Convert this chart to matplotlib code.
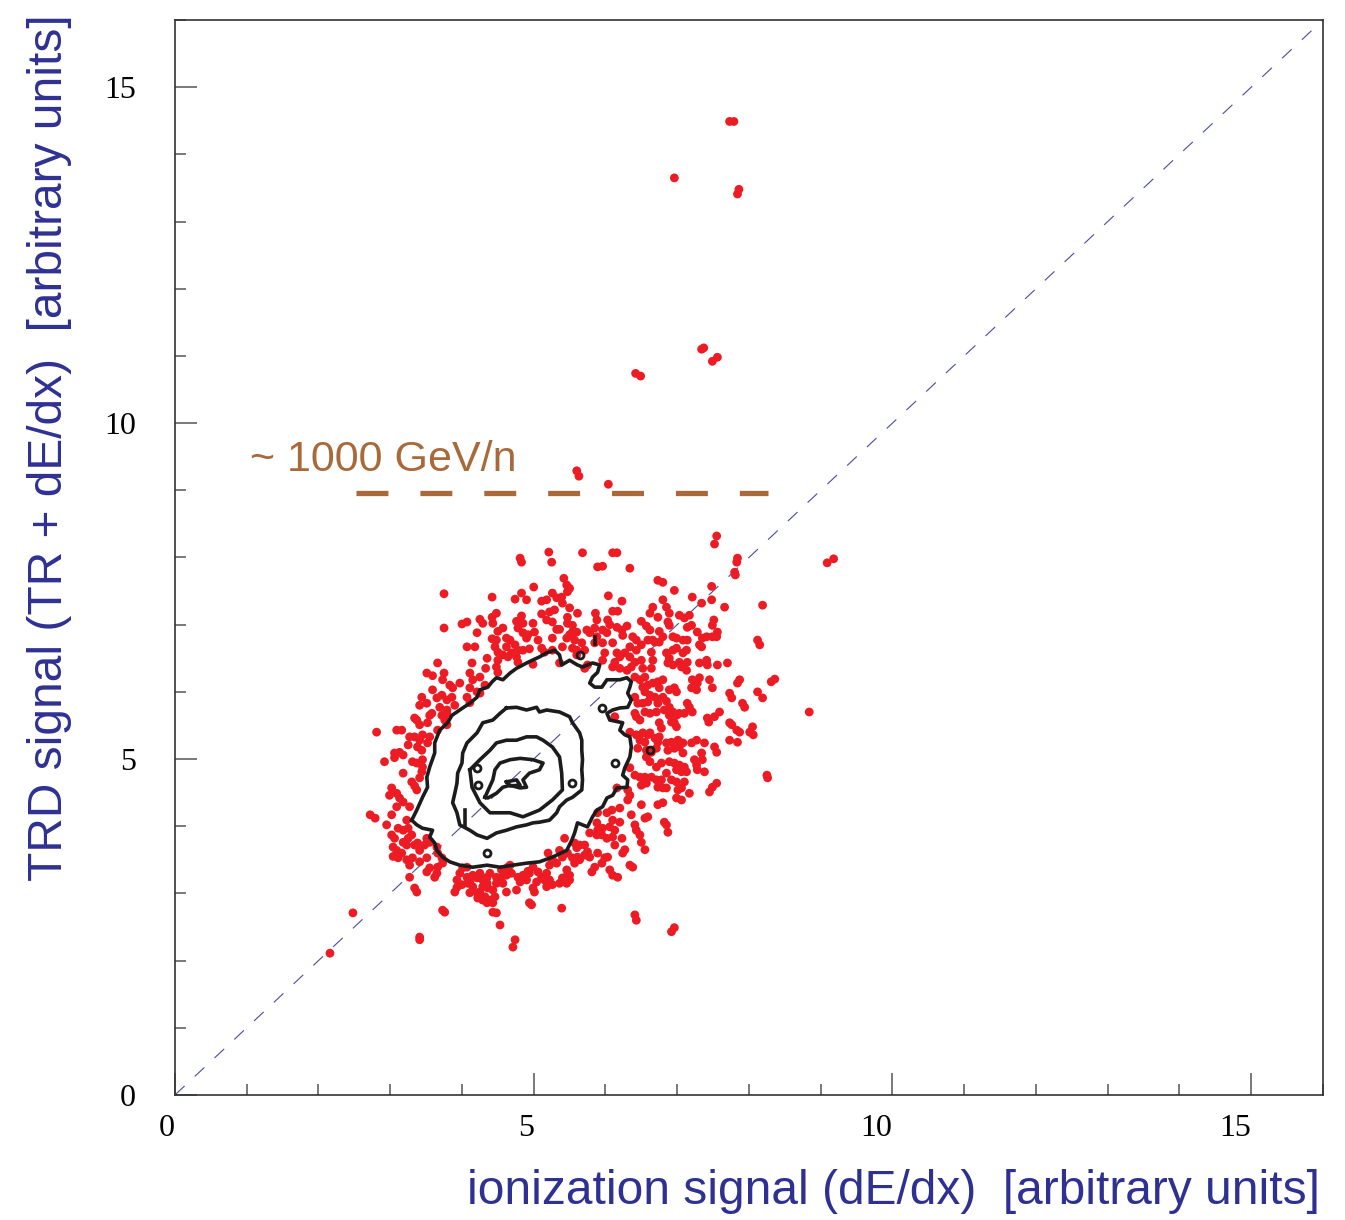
import matplotlib
matplotlib.use("Agg")
import matplotlib.pyplot as plt
from matplotlib.ticker import MultipleLocator

plt.rcParams["lines.scale_dashes"] = False

# ---- event sample: ionization signal vs TRD signal ----
ion_signal = [
    4.81, 4.83, 5.21, 5.25, 5.42, 5.46, 5.47, 5.00, 3.75, 4.42, 4.74, 4.90, 5.11, 5.18, 5.26, 5.32,
    5.39, 5.40, 5.50, 4.48, 4.42, 4.83, 4.76, 4.85, 5.11, 5.22, 5.29, 5.18, 5.26, 5.47, 5.54, 5.61,
    4.07, 4.00, 4.25, 4.29, 3.75, 4.57, 4.50, 4.21, 4.78, 4.85, 4.90, 4.99, 5.01, 5.32, 5.36, 5.50,
    5.46, 5.57, 4.42, 4.48, 4.62, 4.67, 4.07, 4.18, 4.46, 4.50, 4.57, 4.69, 4.76, 4.85, 4.94, 5.06,
    5.11, 5.26, 5.15, 5.40, 5.54, 5.60, 4.35, 4.50, 4.14, 4.33, 4.48, 4.99, 3.66, 5.36, 3.75, 3.59,
    3.51, 4.11, 4.25, 4.15, 3.73, 3.83, 3.97, 3.87, 4.11, 4.21, 4.32, 3.59, 3.65, 3.72, 3.79, 3.86,
    3.44, 3.41, 3.51, 4.07, 4.11, 4.25, 3.69, 3.79, 3.90, 3.58, 3.34, 3.72, 3.79,
    7.52, 5.68, 6.10, 6.16, 5.89, 5.96, 6.34, 7.84, 7.83, 7.80, 7.81, 6.73, 6.80, 6.96, 7.48, 6.04,
    6.23, 7.21, 7.34, 7.48, 7.66, 8.19, 5.50, 6.80, 6.85, 6.66, 6.62, 6.73, 6.89, 6.87, 7.03, 7.10,
    6.10, 6.17, 5.86, 5.88, 5.85, 5.96, 6.03, 6.50, 6.57, 6.62, 6.75, 6.80, 6.89, 6.94, 6.99, 7.14,
    7.20, 7.51, 7.49, 7.56, 6.16, 6.23, 6.30, 5.74, 5.78, 5.60, 7.28, 6.38, 6.43, 6.34, 6.43, 6.50,
    6.59, 6.66, 7.08, 7.14, 6.99, 6.94, 7.35, 7.41, 7.31, 7.34, 7.49, 7.55, 6.75, 8.12, 8.15, 5.96,
    6.10, 5.99, 6.16, 6.20, 6.27, 5.60, 5.71, 5.67, 6.64, 6.85, 6.89, 7.08, 6.34, 6.41, 6.50, 6.66,
    6.13, 6.10, 6.20, 6.30, 6.87, 6.94, 7.03, 7.14, 7.41, 7.42, 7.56, 7.70, 6.52, 6.64, 7.06, 7.13,
    5.75, 5.71, 6.41, 6.48, 6.55, 6.59, 6.66, 6.73, 6.80, 6.96, 6.99, 7.21, 7.31, 7.28, 7.20, 7.27,
    7.45, 7.49, 7.87, 7.84, 8.36, 8.31, 6.55, 6.62, 6.69, 6.75, 6.80, 6.41, 6.45, 6.52, 7.73, 7.76,
    8.12, 8.19, 7.91, 7.14, 7.17, 6.55, 6.62, 6.71, 6.82, 6.89, 6.94, 7.03, 7.10, 7.42, 6.43,
    8.84, 6.13, 6.41, 6.99, 7.44, 7.73, 7.76, 7.83, 7.87, 8.05, 8.01, 8.06, 6.75, 6.78, 6.92, 6.96,
    6.99, 6.34, 6.43, 6.52, 6.59, 6.62, 6.69, 6.75, 6.73, 6.85, 6.92, 7.01, 7.08, 7.27, 7.38, 7.20,
    7.73, 7.84, 6.48, 6.55, 6.45, 6.57, 6.64, 6.71, 6.87, 6.96, 7.03, 7.08, 7.52, 7.55, 6.57, 6.62,
    6.89, 6.96, 6.78, 6.71, 7.24, 7.34, 7.35, 7.27, 7.28, 7.03, 7.10, 6.99, 7.06, 7.13, 7.38, 6.34,
    6.41, 6.48, 6.55, 6.64, 6.71, 6.78, 6.85, 6.92, 6.99, 7.10, 8.25, 8.26, 7.55, 7.49, 7.45, 6.50,
    6.57, 6.73, 6.80, 6.85, 7.01, 7.06, 7.17, 6.16, 6.31, 6.34, 6.31, 6.99, 7.06, 6.73, 6.80, 6.50,
    6.20, 6.09, 6.02, 5.89, 6.10, 6.20, 6.36, 6.55, 6.59, 6.82, 6.85, 6.87, 5.88, 5.89, 5.96, 6.06,
    6.13, 6.41, 6.43, 5.95, 6.02, 6.10, 6.23, 6.48, 6.50, 5.78, 5.88, 5.57, 5.64, 5.71, 6.13, 6.27,
    6.24, 6.55, 5.75, 5.71, 5.78, 5.89, 5.61, 5.54, 5.57, 5.64, 5.99, 6.03, 5.95, 6.34, 6.38, 5.85,
    5.81, 6.06, 6.10, 6.17, 5.50, 5.50, 6.41, 6.43, 6.96, 6.92,
    3.37, 3.41, 3.52, 3.55, 3.76, 3.66, 3.79, 3.09, 3.16, 2.81, 3.27, 3.34, 3.41, 3.38, 3.44, 3.52,
    3.55, 3.45, 3.25, 3.06, 3.13, 3.18, 2.92, 3.31, 3.37, 3.45, 3.45, 3.44, 3.41, 3.18, 3.30, 3.37,
    3.02, 2.99, 3.09, 3.13, 3.18, 3.27, 2.72, 2.79, 3.02, 2.95, 3.11, 3.18, 3.25, 3.02, 3.06, 3.25,
    3.30, 3.18, 3.23, 3.04, 3.09, 3.16, 3.34, 3.38, 3.51, 3.55, 3.11, 3.23, 3.27, 3.41, 3.51, 3.66,
    3.72, 3.73, 3.66, 3.55, 3.65, 3.62, 3.51, 3.27, 3.37, 3.34, 2.48, 2.16, 3.41, 3.41, 3.73, 3.76,
    4.01, 4.07, 3.97, 4.07, 3.93, 4.00, 4.08, 4.15, 4.21, 4.25, 4.29, 4.35, 4.39, 4.35, 4.11, 4.21,
    4.29, 4.25, 4.32, 4.39, 4.29, 4.35, 4.43, 4.46, 4.43, 4.48, 4.55, 4.62, 4.48, 4.57, 4.64, 4.69,
    4.78, 4.85, 4.81, 4.90, 4.76, 4.62, 4.99, 5.06, 4.94, 5.04, 4.99, 5.11, 5.18, 5.22, 5.26, 5.36,
    5.20, 5.26, 5.32, 5.40, 5.36, 5.47, 5.22, 5.46, 5.47, 5.40, 4.43, 4.48, 4.53, 4.94, 4.74, 4.71,
    5.39, 5.43, 5.60, 4.55,
    7.73, 7.79, 6.96, 7.86, 7.84, 7.34, 7.37, 7.49, 7.56, 6.42, 6.49, 5.60, 5.63, 6.04, 7.55, 9.09,
    9.18,
    4.83, 5.47, 5.54, 5.88, 5.85, 4.92, 5.26, 4.43, 4.62, 4.74, 4.78, 4.64, 4.78, 4.50,
    7.17, 6.69, 6.06, 6.02, 6.24, 5.96, 6.36, 7.13, 7.31, 7.94, 7.52, 7.59, 6.52, 6.89, 6.59, 6.73,
    6.85, 6.89, 7.21, 6.48,
    3.06, 3.34, 3.09, 3.23, 3.04, 3.41, 3.48, 3.31, 3.65,
    3.90, 3.93, 4.11, 4.15, 4.36, 4.22, 4.67, 4.92, 5.01, 5.15, 5.18, 5.46, 4.97,
]
trd_signal = [
    7.99, 7.93, 8.08, 7.93, 7.69, 7.59, 7.49, 7.56, 7.46, 7.41, 7.38, 7.37, 7.35, 7.37, 7.47, 7.40,
    7.41, 7.32, 7.25, 7.17, 7.11, 7.13, 7.05, 7.02, 7.16, 7.19, 7.22, 7.07, 7.04, 7.11, 6.99, 7.17,
    7.04, 7.01, 7.08, 7.02, 6.95, 6.95, 6.90, 6.88, 6.95, 6.88, 6.80, 7.02, 6.89, 6.93, 6.93, 6.85,
    6.80, 6.77, 6.79, 6.77, 6.80, 6.77, 6.67, 6.67, 6.67, 6.59, 6.55, 6.58, 6.52, 6.62, 6.64, 6.77,
    6.65, 6.80, 6.59, 6.67, 6.65, 6.55, 6.50, 6.47, 6.43, 6.35, 6.37, 6.41, 6.43, 6.43, 6.28, 6.24,
    6.28, 6.28, 6.22, 6.18, 6.18, 6.10, 6.13, 6.06, 6.06, 6.00, 6.10, 6.03, 5.91, 5.95, 5.88, 5.92,
    5.92, 5.80, 5.83, 5.92, 5.84, 5.98, 5.77, 5.73, 5.80, 5.68, 5.61, 5.65, 5.68,
    8.20, 8.07, 8.07, 8.07, 7.86, 7.87, 7.84, 7.99, 7.93, 7.78, 7.74, 7.66, 7.63, 7.51, 7.57, 7.43,
    7.35, 7.41, 7.32, 7.37, 7.26, 7.29, 7.54, 7.37, 7.26, 7.26, 7.17, 7.11, 7.17, 7.04, 7.14, 7.10,
    7.20, 7.20, 7.17, 7.07, 6.95, 6.92, 7.07, 7.05, 6.98, 6.92, 6.90, 6.82, 6.99, 6.82, 6.80, 6.96,
    6.99, 7.07, 6.99, 6.89, 6.96, 6.92, 6.98, 6.92, 6.88, 6.89, 6.89, 6.82, 6.77, 6.67, 6.62, 6.70,
    6.77, 6.77, 6.77, 6.77, 6.65, 6.62, 6.80, 6.82, 6.70, 6.67, 6.82, 6.82, 6.74, 6.77, 6.70, 6.73,
    6.73, 6.58, 6.58, 6.52, 6.58, 6.62, 6.62, 6.73, 6.59, 6.58, 6.50, 6.58, 6.52, 6.44, 6.47, 6.47,
    6.44, 6.37, 6.35, 6.32, 6.43, 6.40, 6.44, 6.44, 6.47, 6.40, 6.40, 6.43, 6.35, 6.35, 6.37, 6.32,
    6.40, 6.35, 6.22, 6.18, 6.22, 6.10, 6.13, 6.15, 6.18, 6.06, 6.00, 6.18, 6.21, 6.13, 6.06, 6.03,
    6.18, 6.06, 6.18, 6.13, 6.19, 6.15, 6.00, 5.95, 5.92, 6.06, 5.92, 5.92, 5.83, 5.83, 5.98, 5.91,
    6.00, 5.91, 5.83, 5.83, 5.77, 5.70, 5.68, 5.70, 5.73, 5.65, 5.70, 5.68, 5.68, 5.61, 5.63,
    5.70, 5.63, 5.68, 5.65, 5.55, 5.54, 5.51, 5.43, 5.40, 5.48, 5.40, 5.36, 5.54, 5.46, 5.55, 5.54,
    5.48, 5.40, 5.36, 5.39, 5.36, 5.39, 5.31, 5.33, 5.25, 5.24, 5.25, 5.28, 5.24, 5.28, 5.24, 5.24,
    5.28, 5.25, 5.28, 5.25, 5.16, 5.13, 5.10, 5.16, 5.13, 5.16, 5.18, 5.09, 5.18, 5.10, 5.03, 4.96,
    4.96, 4.94, 4.94, 4.88, 4.99, 5.09, 4.99, 4.91, 4.84, 4.91, 4.88, 4.84, 4.81, 4.81, 4.81, 4.87,
    4.76, 4.73, 4.73, 4.73, 4.69, 4.69, 4.79, 4.69, 4.66, 4.66, 4.76, 4.72, 4.64, 4.58, 4.51, 4.61,
    4.64, 4.58, 4.57, 4.57, 4.54, 4.57, 4.49, 4.57, 4.54, 4.46, 4.39, 4.42, 4.39, 4.32, 4.35, 4.32,
    4.27, 4.24, 4.20, 4.20, 4.09, 4.06, 4.17, 4.12, 4.14, 4.06, 4.02, 3.91, 4.05, 3.94, 3.97, 3.99,
    3.94, 4.02, 3.94, 3.87, 3.82, 3.84, 3.82, 3.87, 3.76, 3.90, 3.87, 3.75, 3.72, 3.72, 3.72, 3.65,
    3.60, 3.65, 3.62, 3.57, 3.54, 3.60, 3.54, 3.53, 3.45, 3.50, 3.53, 3.54, 3.45, 3.42, 3.39, 3.39,
    3.32, 3.35, 3.27, 3.24, 3.27, 3.20, 2.68, 2.60, 2.49, 2.43,
    5.58, 5.51, 5.54, 5.65, 5.58, 5.43, 5.51, 5.43, 5.43, 5.40, 5.33, 5.33, 5.28, 5.18, 5.13, 5.24,
    5.33, 5.36, 5.21, 5.09, 5.10, 5.06, 4.96, 4.96, 4.94, 4.99, 4.88, 4.81, 4.72, 4.79, 4.66, 4.54,
    4.57, 4.46, 4.49, 4.42, 4.36, 4.29, 4.17, 4.12, 4.17, 4.02, 3.97, 3.94, 3.97, 3.87, 3.82, 3.82,
    3.87, 3.76, 3.72, 3.69, 3.64, 3.60, 3.72, 3.75, 3.82, 3.76, 3.53, 3.50, 3.42, 3.47, 3.53, 3.60,
    3.53, 3.45, 3.39, 3.38, 3.30, 3.24, 3.32, 3.24, 3.02, 3.08, 2.71, 2.11, 2.35, 2.31, 2.75, 2.72,
    3.38, 3.39, 3.30, 3.24, 3.20, 3.13, 3.15, 3.27, 3.23, 3.30, 3.20, 3.24, 3.30, 3.15, 3.01, 3.01,
    3.10, 3.02, 2.95, 2.90, 2.90, 2.86, 2.86, 2.95, 3.05, 3.24, 3.24, 3.27, 3.15, 3.15, 3.39, 3.30,
    3.24, 3.27, 3.17, 3.20, 3.05, 3.02, 3.39, 3.32, 3.30, 3.17, 3.08, 3.24, 3.30, 3.20, 3.13, 3.15,
    3.60, 3.50, 3.45, 3.54, 3.64, 3.60, 3.42, 3.35, 3.27, 3.23, 2.72, 2.71, 2.53, 2.86, 2.31, 2.20,
    2.78, 3.82, 3.68, 3.35,
    14.49, 14.49, 13.65, 13.48, 13.41, 11.10, 11.12, 10.92, 10.98, 10.74, 10.70, 9.29, 9.21, 9.09, 8.32, 7.92,
    7.98,
    7.47, 7.02, 6.89, 6.82, 6.73, 6.85, 6.62, 7.02, 6.67, 6.70, 6.62, 6.52, 6.44, 6.29,
    7.14, 6.74, 7.00, 6.88, 6.84, 6.47, 6.37, 6.62, 6.43, 5.77, 5.63, 5.70, 6.07, 6.03, 5.85, 5.83,
    5.86, 5.77, 5.70, 5.58,
    5.02, 4.60, 4.29, 4.09, 3.55, 3.64, 3.72, 3.53, 3.69,
    3.02, 3.09, 3.17, 3.10, 3.08, 2.93, 3.42, 3.33, 3.02, 3.20, 3.10, 3.15, 2.83,
]

# ---- density contours of the core population ----
contour_outer_x = [
    3.30, 3.37, 3.45, 3.52, 3.51, 3.55, 3.62, 3.62, 3.69, 3.80, 3.86, 4.01, 4.11, 4.21, 4.25, 4.36,
    4.42, 4.48, 4.57, 4.67, 4.76, 4.85, 4.92, 5.08, 5.18, 5.29, 5.36, 5.39, 5.50, 5.61, 5.68, 5.82,
    5.92, 5.89, 5.82, 5.78, 5.85, 5.95, 6.02, 6.20, 6.30, 6.36, 6.34, 6.31, 6.36, 6.31, 6.20, 6.10,
    6.02, 6.06, 6.24, 6.20, 6.27, 6.34, 6.36, 6.34, 6.27, 6.24, 6.31, 6.30, 6.16, 6.10, 6.02, 5.96,
    5.88, 5.82, 5.75, 5.68, 5.61, 5.57, 5.53, 5.46, 5.26, 5.08, 4.90, 4.71, 4.53, 4.35, 4.15, 3.97,
    3.83, 3.73, 3.65, 3.62, 3.55, 3.59, 3.45, 3.37, 3.30,
]
contour_outer_y = [
    4.09, 4.24, 4.43, 4.58, 4.73, 4.88, 5.09, 5.24, 5.43, 5.54, 5.65, 5.76, 5.83, 5.92, 6.03, 6.07,
    6.15, 6.21, 6.18, 6.28, 6.35, 6.40, 6.44, 6.52, 6.58, 6.62, 6.55, 6.40, 6.47, 6.40, 6.37, 6.43,
    6.40, 6.29, 6.22, 6.13, 6.07, 6.07, 6.18, 6.18, 6.21, 6.15, 6.07, 5.98, 5.88, 5.77, 5.76, 5.73,
    5.68, 5.58, 5.54, 5.43, 5.36, 5.33, 5.18, 5.03, 4.87, 4.76, 4.69, 4.58, 4.57, 4.46, 4.42, 4.29,
    4.24, 4.14, 3.99, 4.02, 4.05, 3.90, 3.79, 3.64, 3.54, 3.47, 3.45, 3.42, 3.39, 3.42, 3.39, 3.42,
    3.47, 3.54, 3.64, 3.75, 3.84, 3.94, 3.97, 4.02, 4.09,
]
contour_mid_x = [
    4.62, 4.76, 4.90, 5.04, 5.08, 5.18, 5.36, 5.50, 5.54, 5.64, 5.67, 5.67, 5.68, 5.67, 5.68, 5.67,
    5.54, 5.46, 5.36, 5.32, 5.22, 5.08, 4.99, 4.90, 4.76, 4.62, 4.48, 4.35, 4.21, 4.11, 3.97, 3.93,
    3.87, 3.90, 3.93, 3.94, 4.00, 4.01, 4.07, 4.21, 4.29, 4.43, 4.53, 4.62,
]
contour_mid_y = [
    5.76, 5.77, 5.73, 5.77, 5.70, 5.73, 5.70, 5.63, 5.54, 5.39, 5.28, 5.13, 4.99, 4.84, 4.69, 4.54,
    4.43, 4.39, 4.29, 4.20, 4.09, 4.06, 4.05, 4.02, 3.99, 3.94, 3.90, 3.82, 3.87, 3.94, 4.02, 4.20,
    4.35, 4.49, 4.64, 4.79, 4.94, 5.09, 5.24, 5.39, 5.54, 5.58, 5.68, 5.76,
]
contour_high_x = [
    4.11, 4.14, 4.25, 4.39, 4.67, 4.85, 5.08, 5.26, 5.40, 5.39, 5.36, 5.26, 5.13, 5.04, 4.90, 4.76,
    4.62, 4.48, 4.39, 4.25, 4.11,
]
contour_high_y = [
    4.84, 4.58, 4.35, 4.20, 4.20, 4.14, 4.24, 4.39, 4.54, 4.79, 5.03, 5.18, 5.28, 5.33, 5.33, 5.28,
    5.28, 5.24, 5.13, 4.99, 4.84,
]
contour_peak_x = [
    4.32, 4.43, 4.46, 4.53, 4.67, 4.81, 4.99, 5.13, 5.08, 4.94, 4.85, 4.90, 4.81, 4.67, 4.57, 4.48,
    4.36, 4.32,
]
contour_peak_y = [
    4.43, 4.69, 4.84, 4.94, 4.99, 5.01, 4.99, 4.94, 4.84, 4.79, 4.69, 4.58, 4.57, 4.61, 4.58, 4.49,
    4.42, 4.43,
]
contour_peak2_x = [4.62, 4.76, 4.81, 4.67, 4.62]
contour_peak2_y = [4.66, 4.69, 4.61, 4.60, 4.66]
# isolated contour islands (small closed loops)
island_x = [4.21, 4.22, 4.35, 6.13, 5.95, 5.54, 5.64, 6.62]
island_y = [4.87, 4.61, 3.60, 4.94, 5.76, 4.64, 6.55, 5.13]
stub_x = [4.04, 4.04]
stub_y = [4.00, 4.24]
stub2_x = [5.85, 5.85]
stub2_y = [6.82, 6.71]

# energy threshold marker
threshold_x = [2.52, 8.26]
threshold_y = [8.96, 8.96]
threshold_label = "~ 1000 GeV/n"

axis_limit = 16
diag = [0, axis_limit]

x_title = "ionization signal (dE/dx)  [arbitrary units]"
y_title = "TRD signal (TR + dE/dx)  [arbitrary units]"

RED = "#ed1c24"
BROWN = "#a86a3a"
NAVY = "#2e3192"
INK = "#1c1c1c"

fig = plt.figure(figsize=(13.45, 12.2), dpi=100)
ax = fig.add_axes([0.1301, 0.1025, 0.8535, 0.8811])

ax.plot(diag, diag, color="#4a4aa8", lw=0.8, dashes=(9.5, 10))

ax.scatter(ion_signal, trd_signal, s=40, color=RED, edgecolors="none", zorder=3)

for cx, cy in [(contour_outer_x, contour_outer_y), (contour_mid_x, contour_mid_y),
               (contour_high_x, contour_high_y), (contour_peak_x, contour_peak_y),
               (contour_peak2_x, contour_peak2_y), (stub_x, stub_y), (stub2_x, stub2_y)]:
    ax.plot(cx, cy, color=INK, lw=2.6, solid_joinstyle="round", zorder=4)
ax.plot(island_x, island_y, ls="none", marker="o", ms=5, mfc="none", mec=INK, mew=2.0, zorder=4)

ax.plot(threshold_x, threshold_y, color=BROWN, lw=3.8, dashes=(23, 23), solid_capstyle="butt",
        dash_capstyle="butt", zorder=2)
ax.text(1.04, 9.45, threshold_label, color=BROWN, fontsize=31, family="Liberation Sans",
        ha="left", va="center")

ax.set_xlim(0, axis_limit)
ax.set_ylim(0, axis_limit)
ax.xaxis.set_major_locator(MultipleLocator(5))
ax.yaxis.set_major_locator(MultipleLocator(5))
ax.xaxis.set_minor_locator(MultipleLocator(1))
ax.yaxis.set_minor_locator(MultipleLocator(1))
ax.tick_params(which="both", direction="in", top=False, right=False, color="#555555", width=1.1)
ax.tick_params(which="major", length=16)
ax.tick_params(which="minor", length=8)
ax.tick_params(axis="y", which="major", pad=28, labelsize=23)
ax.tick_params(axis="x", which="major", pad=14, labelsize=23)
for lab in ax.get_xticklabels() + ax.get_yticklabels():
    lab.set_family("Liberation Serif")
for lab in ax.get_xticklabels():
    lab.set_ha("right")
for sp in ax.spines.values():
    sp.set_color("#333333")
    sp.set_linewidth(1.2)

fig.text(0.9814, 0.023, x_title, color=NAVY, fontsize=34.5, family="Liberation Sans",
         ha="right", va="center")
fig.text(0.037, 0.988, y_title, color=NAVY, fontsize=34.5, family="Liberation Sans",
         rotation=90, ha="center", va="top")

fig.savefig("out.png", dpi=100)
